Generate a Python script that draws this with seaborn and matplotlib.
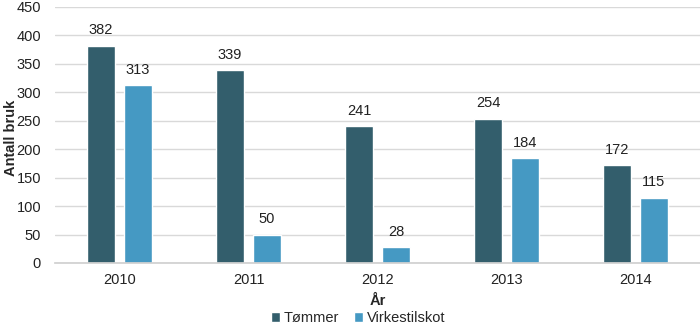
import matplotlib
matplotlib.use("Agg")
import matplotlib.pyplot as plt
import seaborn as sns
import pandas as pd

years = ["2010", "2011", "2012", "2013", "2014"]
tommer = [382, 339, 241, 254, 172]
virke = [313, 50, 28, 184, 115]
series_names = ["Tømmer", "Virkestilskot"]
colors = ["#335E6C", "#4599C3"]

df = pd.DataFrame({
    "År": years * 2,
    "Antall bruk": tommer + virke,
    "Serie": [series_names[0]] * 5 + [series_names[1]] * 5,
})

sns.set_theme(style="white")
plt.rcParams["font.family"] = ["Liberation Sans", "DejaVu Sans"]

fig = plt.figure(figsize=(7.0, 3.26), dpi=100)
ax = fig.add_axes([55 / 700, 63 / 326, 645 / 700, 256 / 326])

sns.barplot(data=df, x="År", y="Antall bruk", hue="Serie", palette=colors,
            saturation=1, width=0.57, gap=0.22, ax=ax, legend=True)

for cont in ax.containers:
    ax.bar_label(cont, padding=6, fontsize=10.5, color="#222222")

ax.set_ylim(0, 450)
ax.set_yticks(range(0, 451, 50))
ax.yaxis.grid(True, color="#d9d9d9", linewidth=1)
ax.set_axisbelow(True)
for s in ["top", "right", "left"]:
    ax.spines[s].set_visible(False)
ax.spines["bottom"].set_color("#d0d0d0")
ax.tick_params(axis="both", length=0, labelsize=10.5, colors="#222222")
ax.tick_params(axis="x", pad=7)
ax.tick_params(axis="y", pad=10)
ax.set_xlabel("År", fontsize=10.5, fontweight="bold", labelpad=5)
ax.set_ylabel("Antall bruk", fontsize=10.5, fontweight="bold")
ax.yaxis.set_label_coords(-0.058, 0.49)

ax.legend(loc="center", bbox_to_anchor=(0.47, -0.215), ncol=2, frameon=False,
          fontsize=10.5, handlelength=0.6, handleheight=0.6, handletextpad=0.3,
          columnspacing=1.0, borderaxespad=0, borderpad=0)

fig.savefig("out.png", dpi=100)
